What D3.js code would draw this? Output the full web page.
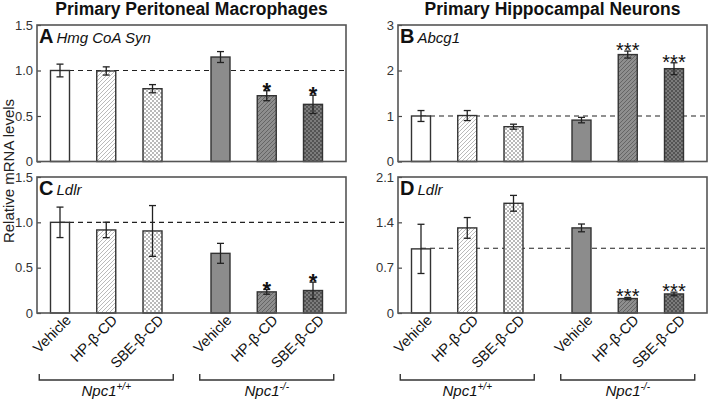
<!DOCTYPE html>
<html><head><meta charset="utf-8">
<script src="https://cdn.jsdelivr.net/npm/d3@7"></script>
<style>
body{margin:0;background:#fff;}
svg{display:block;font-family:"Liberation Sans",Arial,sans-serif;}
</style></head>
<body><svg id="c" width="709" height="401"></svg>
<script>
// ---- data ----
const treatments = ["Vehicle", "HP-β-CD", "SBE-β-CD"];
const genotypes = ["+/+", "-/-"];
const titles = ["Primary Peritoneal Macrophages", "Primary Hippocampal Neurons"];
const panelLetters = ["A", "B", "C", "D"];
const panelGenes = ["Hmg CoA Syn", "Abcg1", "Ldlr", "Ldlr"];
const yMaxes = [1.5, 3, 1.5, 2.1];
const yTicksA = [0, 0.5, 1.0, 1.5];
const yTicksB = [0, 1, 2, 3];
const yTicksC = [0, 0.5, 1.0, 1.5];
const yTicksD = [0, 0.7, 1.4, 2.1];
const valuesA = [1.0, 0.995, 0.80, 1.148, 0.723, 0.628];
const errorsA = [0.07, 0.045, 0.045, 0.06, 0.055, 0.10];
const sigA = ["", "", "", "", "*", "*"];
const valuesB = [1.0, 1.01, 0.765, 0.91, 2.35, 2.04];
const errorsB = [0.12, 0.11, 0.055, 0.06, 0.077, 0.13];
const sigB = ["", "", "", "", "***", "***"];
const valuesC = [1.0, 0.916, 0.905, 0.658, 0.233, 0.248];
const errorsC = [0.168, 0.085, 0.28, 0.11, 0.026, 0.092];
const sigC = ["", "", "", "", "*", "*"];
const valuesD = [0.99, 1.314, 1.694, 1.314, 0.223, 0.294];
const errorsD = [0.38, 0.16, 0.122, 0.06, 0.018, 0.028];
const sigD = ["", "", "", "", "***", "***"];

const panels = [
  {values: valuesA, errors: errorsA, sig: sigA, ticks: yTicksA, fmt: d => d === 0 ? "0" : d3.format(".1f")(d)},
  {values: valuesB, errors: errorsB, sig: sigB, ticks: yTicksB, fmt: d => String(d)},
  {values: valuesC, errors: errorsC, sig: sigC, ticks: yTicksC, fmt: d => d === 0 ? "0" : d3.format(".1f")(d)},
  {values: valuesD, errors: errorsD, sig: sigD, ticks: yTicksD, fmt: d => d === 0 ? "0" : d3.format(".1f")(d)}
];

// ---- layout ----
const svg = d3.select("#c");
const W = 309;
const frames = [
  {x: 37, y: 25, h: 136.5},
  {x: 398, y: 25, h: 136.5},
  {x: 37, y: 177, h: 136},
  {x: 398, y: 177, h: 136}
];
const groupGap = 0.47;
const slot = (g, t) => g * (treatments.length + groupGap) + t;
const x = d3.scaleLinear().domain([0, slot(1, 2)]).range([23, 276]);
const barW = 19;

// patterns
const defs = svg.append("defs");
function hatch(id, bg, fg, cross) {
  const p = defs.append("pattern").attr("id", id).attr("patternUnits", "userSpaceOnUse")
    .attr("width", 4).attr("height", 4);
  p.append("rect").attr("width", 4).attr("height", 4).attr("fill", bg);
  p.append("path").attr("d", "M-1,1 l2,-2 M0,4 l4,-4 M3,5 l2,-2").attr("stroke", fg).attr("stroke-width", 0.8);
  if (cross) p.append("path").attr("d", "M-1,3 l2,2 M0,0 l4,4 M3,-1 l2,2").attr("stroke", fg).attr("stroke-width", 0.8);
}
hatch("hl", "#ffffff", "#a8a8a8", false);
hatch("cl", "#ffffff", "#a8a8a8", true);
hatch("hd", "#8e8e8e", "#5a5a5a", false);
hatch("cd", "#7c7c7c", "#4a4a4a", true);
const fills = ["#ffffff", "url(#hl)", "url(#cl)", "#8c8c8c", "url(#hd)", "url(#cd)"];

panels.forEach((p, i) => {
  const f = frames[i];
  const g = svg.append("g").attr("transform", `translate(${f.x},${f.y})`);
  const y = d3.scaleLinear().domain([0, yMaxes[i]]).range([f.h, 0]);
  const data = p.values.map((v, k) => ({v, e: p.errors[k], s: p.sig[k],
    pos: x(slot(Math.floor(k / 3), k % 3)), fill: fills[k]}));

  // reference dashed line
  g.append("line").attr("x1", data[0].pos).attr("x2", W).attr("y1", y(1)).attr("y2", y(1))
    .attr("stroke", "#222").attr("stroke-width", 1.2).attr("stroke-dasharray", "5,4");

  g.selectAll("rect.bar").data(data).join("rect").attr("class", "bar")
    .attr("x", d => d.pos - barW / 2).attr("width", barW)
    .attr("y", d => y(d.v)).attr("height", d => f.h - y(d.v))
    .attr("fill", d => d.fill).attr("stroke", "#333").attr("stroke-width", 1.4);

  const eb = g.selectAll("g.eb").data(data).join("g").attr("class", "eb")
    .attr("stroke", "#222").attr("stroke-width", 1.3);
  eb.append("line").attr("x1", d => d.pos).attr("x2", d => d.pos)
    .attr("y1", d => y(d.v + d.e)).attr("y2", d => y(d.v - d.e));
  eb.append("line").attr("x1", d => d.pos - 3.5).attr("x2", d => d.pos + 3.5)
    .attr("y1", d => y(d.v + d.e)).attr("y2", d => y(d.v + d.e));
  eb.append("line").attr("x1", d => d.pos - 3.5).attr("x2", d => d.pos + 3.5)
    .attr("y1", d => y(d.v - d.e)).attr("y2", d => y(d.v - d.e));

  g.selectAll("text.sig").data(data.filter(d => d.s)).join("text").attr("class", "sig")
    .attr("x", d => d.pos).attr("y", d => y(d.v + d.e) + (d.s.length > 1 ? 6 : 7))
    .attr("text-anchor", "middle").attr("font-size", d => d.s.length > 1 ? 20 : 22)
    .attr("font-weight", d => d.s.length > 1 ? "normal" : "bold")
    .attr("fill", "#111").text(d => d.s);

  // axis
  const ax = g.append("g").call(d3.axisLeft(y).tickValues(p.ticks).tickFormat(p.fmt)
    .tickSizeInner(-4).tickSizeOuter(0).tickPadding(4));
  ax.select(".domain").remove();
  ax.selectAll(".tick line").attr("stroke", "#444").attr("stroke-width", 1.2);
  ax.selectAll(".tick text").attr("font-size", 13).attr("fill", "#333")
    .attr("font-family", "'Liberation Sans',Arial,sans-serif");

  // frame
  g.append("rect").attr("width", W).attr("height", f.h).attr("fill", "none")
    .attr("stroke", "#555").attr("stroke-width", 1.6);

  // panel label
  const lab = g.append("text").attr("x", 2).attr("y", 17.5);
  lab.append("tspan").attr("font-size", 20).attr("font-weight", "bold").attr("fill", "#111").text(panelLetters[i]);
  lab.append("tspan").attr("dx", 3).attr("font-size", 15).attr("font-style", "italic").attr("fill", "#111").text(panelGenes[i]);

  // x labels for bottom row
  if (i >= 2) {
    g.selectAll("text.xl").data(data).join("text").attr("class", "xl")
      .attr("transform", d => `translate(${d.pos + 12},${f.h + 8}) rotate(-45)`)
      .attr("text-anchor", "end").attr("font-size", 14.5).attr("fill", "#111")
      .text((d, k) => treatments[k % 3]);
    genotypes.forEach((gt, gi) => {
      const c = (x(slot(gi, 0)) + x(slot(gi, 2))) / 2;
      const yb = 380 - f.y;
      g.append("path").attr("d", `M${c - 67},${yb - 6} V${yb} H${c + 67} V${yb - 6}`)
        .attr("fill", "none").attr("stroke", "#333").attr("stroke-width", 1.4);
      const t = g.append("text").attr("x", c).attr("y", 396 - f.y).attr("text-anchor", "middle")
        .attr("font-size", 15).attr("font-style", "italic").attr("fill", "#111");
      t.append("tspan").text("Npc1");
      t.append("tspan").attr("dy", -6).attr("font-size", 10).text(gt);
    });
  }
});

// titles
titles.forEach((t, i) => {
  svg.append("text").attr("x", frames[i].x + W / 2).attr("y", 15).attr("text-anchor", "middle")
    .attr("font-size", 17.5).attr("font-weight", "bold").attr("fill", "#111").text(t);
});

// y label
svg.append("text").attr("transform", "translate(13.5,171) rotate(-90)").attr("text-anchor", "middle")
  .attr("font-size", 15).attr("fill", "#222").text("Relative mRNA levels");
</script></body></html>
